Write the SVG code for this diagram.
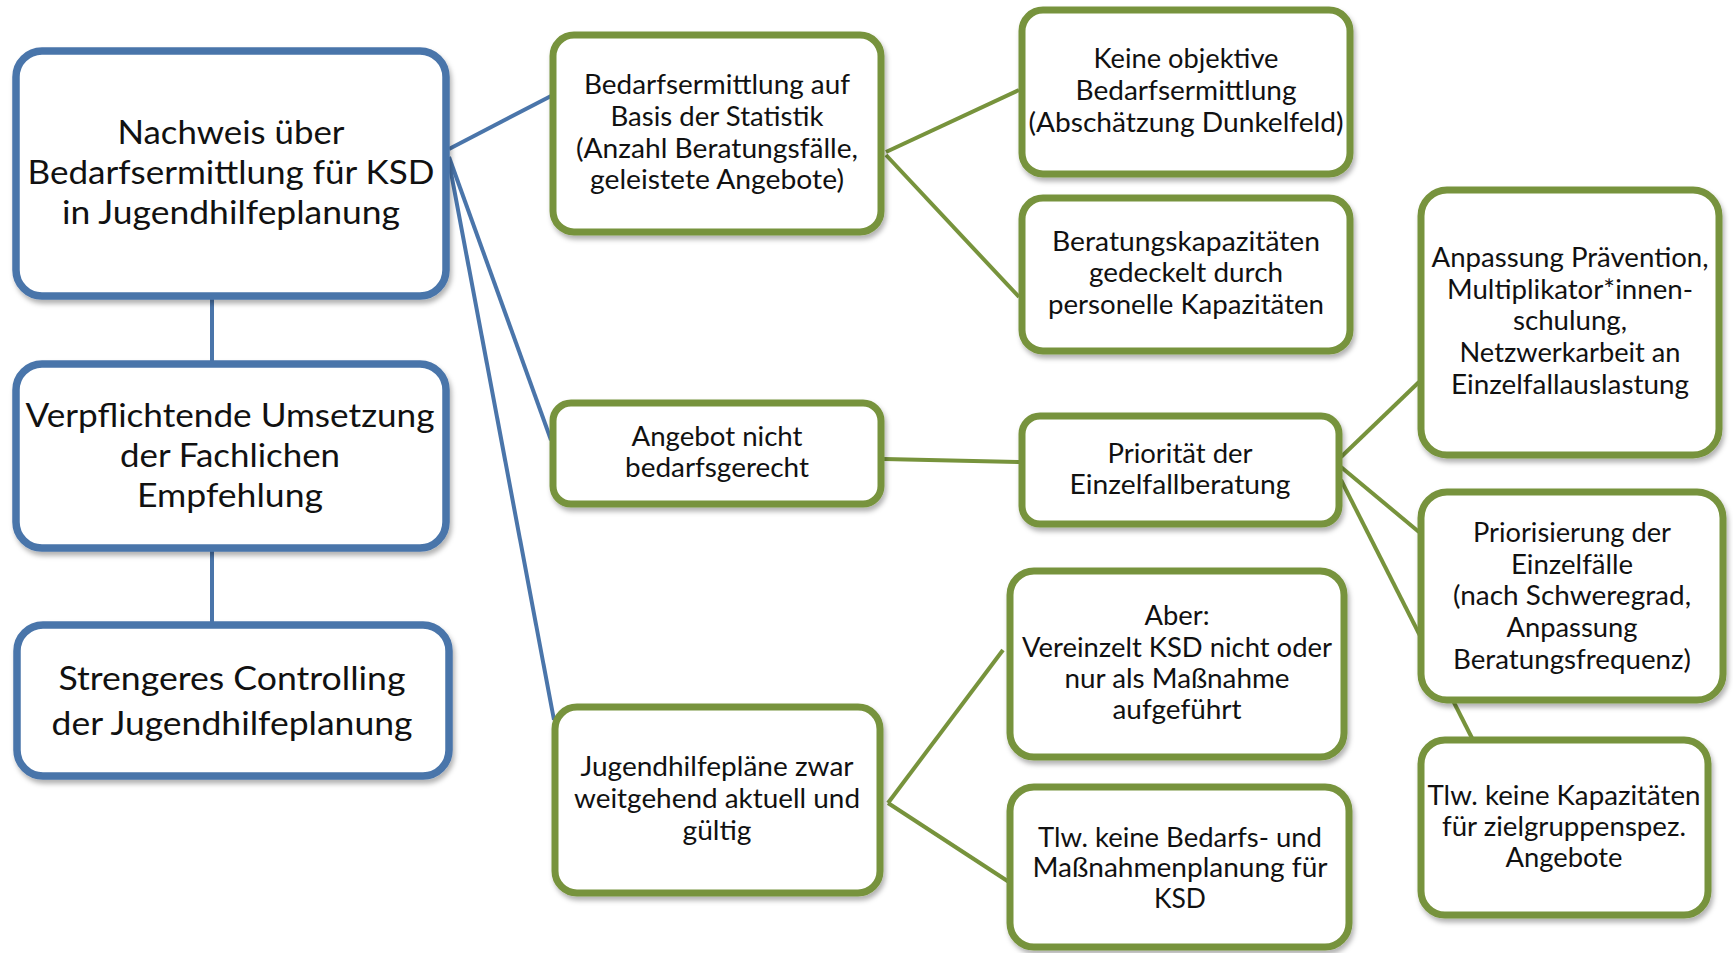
<svg xmlns="http://www.w3.org/2000/svg" width="1733" height="953" viewBox="0 0 1733 953">
<defs>
<filter id="sh" x="-10%" y="-10%" width="125%" height="130%">
<feDropShadow dx="2" dy="4" stdDeviation="2.5" flood-color="#000" flood-opacity="0.3"/>
</filter>
<style>
.bn{fill:#fff;stroke:#4A75AA;stroke-width:7.5;filter:url(#sh)}
.gn{fill:#fff;stroke:#77933C;stroke-width:7;filter:url(#sh)}
.bl{stroke:#4A75AA;stroke-width:4;fill:none}
.gl{stroke:#77933C;stroke-width:4;fill:none}
text{font-family:Lato,"Liberation Sans",sans-serif;fill:#111;text-anchor:middle}
.bt{font-size:32px}
.gt{font-size:27px}
</style>
</defs>
<rect width="1733" height="953" fill="#fff"/>
<g id="connectors">
<line class="bl" x1="212" y1="297" x2="212" y2="364"/>
<line class="bl" x1="212" y1="548" x2="212" y2="625"/>
<line class="bl" x1="449" y1="149" x2="553" y2="95"/>
<line class="bl" x1="449" y1="157" x2="551" y2="440"/>
<line class="bl" x1="449" y1="162" x2="554" y2="720"/>
<line class="gl" x1="886" y1="152" x2="1019" y2="90"/>
<line class="gl" x1="886" y1="155" x2="1019" y2="297"/>
<line class="gl" x1="884" y1="459" x2="1020" y2="462"/>
<line class="gl" x1="1341" y1="457" x2="1419" y2="382"/>
<line class="gl" x1="1341" y1="467" x2="1419" y2="532"/>
<line class="gl" x1="1341" y1="480" x2="1473" y2="740"/>
<line class="gl" x1="888" y1="803" x2="1003" y2="650"/>
<line class="gl" x1="888" y1="803" x2="1009" y2="882"/>
</g>
<g id="b1">
<rect class="bn" x="16" y="51" width="430" height="245" rx="26"/>
<text class="bt" x="231" y="144" textLength="227" lengthAdjust="spacingAndGlyphs">Nachweis über</text>
<text class="bt" x="231" y="184" textLength="407" lengthAdjust="spacingAndGlyphs">Bedarfsermittlung für KSD</text>
<text class="bt" x="231" y="224" textLength="338" lengthAdjust="spacingAndGlyphs">in Jugendhilfeplanung</text>
</g>
<g id="b2">
<rect class="bn" x="16" y="364" width="430" height="184" rx="26"/>
<text class="bt" x="230" y="427" textLength="409" lengthAdjust="spacingAndGlyphs">Verpflichtende Umsetzung</text>
<text class="bt" x="230" y="467" textLength="220" lengthAdjust="spacingAndGlyphs">der Fachlichen</text>
<text class="bt" x="230" y="507" textLength="186" lengthAdjust="spacingAndGlyphs">Empfehlung</text>
</g>
<g id="b3">
<rect class="bn" x="17" y="625" width="432" height="151" rx="26"/>
<text class="bt" x="232" y="690" textLength="347" lengthAdjust="spacingAndGlyphs">Strengeres Controlling</text>
<text class="bt" x="232" y="735" textLength="361" lengthAdjust="spacingAndGlyphs">der Jugendhilfeplanung</text>
</g>
<g id="g1">
<rect class="gn" x="553" y="35" width="328" height="197" rx="21"/>
<text class="gt" x="717" y="94" textLength="266" lengthAdjust="spacingAndGlyphs">Bedarfsermittlung auf</text>
<text class="gt" x="717" y="126" textLength="213" lengthAdjust="spacingAndGlyphs">Basis der Statistik</text>
<text class="gt" x="717" y="158" textLength="282" lengthAdjust="spacingAndGlyphs">(Anzahl Beratungsfälle,</text>
<text class="gt" x="717" y="189" textLength="254" lengthAdjust="spacingAndGlyphs">geleistete Angebote)</text>
</g>
<g id="g2">
<rect class="gn" x="1022" y="10" width="328" height="164" rx="21"/>
<text class="gt" x="1186" y="68" textLength="185" lengthAdjust="spacingAndGlyphs">Keine objektive</text>
<text class="gt" x="1186" y="100" textLength="221" lengthAdjust="spacingAndGlyphs">Bedarfsermittlung</text>
<text class="gt" x="1186" y="132" textLength="315" lengthAdjust="spacingAndGlyphs">(Abschätzung Dunkelfeld)</text>
</g>
<g id="g3">
<rect class="gn" x="1022" y="198" width="328" height="153" rx="21"/>
<text class="gt" x="1186" y="251" textLength="268" lengthAdjust="spacingAndGlyphs">Beratungskapazitäten</text>
<text class="gt" x="1186" y="282" textLength="194" lengthAdjust="spacingAndGlyphs">gedeckelt durch</text>
<text class="gt" x="1186" y="314" textLength="276" lengthAdjust="spacingAndGlyphs">personelle Kapazitäten</text>
</g>
<g id="g4">
<rect class="gn" x="553" y="403" width="328" height="101" rx="18"/>
<text class="gt" x="717" y="446" textLength="171" lengthAdjust="spacingAndGlyphs">Angebot nicht</text>
<text class="gt" x="717" y="477" textLength="184" lengthAdjust="spacingAndGlyphs">bedarfsgerecht</text>
</g>
<g id="g5">
<rect class="gn" x="1022" y="416" width="317" height="108" rx="18"/>
<text class="gt" x="1180" y="463" textLength="145" lengthAdjust="spacingAndGlyphs">Priorität der</text>
<text class="gt" x="1180" y="494" textLength="221" lengthAdjust="spacingAndGlyphs">Einzelfallberatung</text>
</g>
<g id="g6">
<rect class="gn" x="1421" y="190" width="298" height="265" rx="26"/>
<text class="gt" x="1570" y="267" textLength="277" lengthAdjust="spacingAndGlyphs">Anpassung Prävention,</text>
<text class="gt" x="1570" y="299" textLength="246" lengthAdjust="spacingAndGlyphs">Multiplikator*innen-</text>
<text class="gt" x="1570" y="330" textLength="114" lengthAdjust="spacingAndGlyphs">schulung,</text>
<text class="gt" x="1570" y="362" textLength="221" lengthAdjust="spacingAndGlyphs">Netzwerkarbeit an</text>
<text class="gt" x="1570" y="394" textLength="238" lengthAdjust="spacingAndGlyphs">Einzelfallauslastung</text>
</g>
<g id="g7">
<rect class="gn" x="1421" y="492" width="302" height="208" rx="26"/>
<text class="gt" x="1572" y="542" textLength="198" lengthAdjust="spacingAndGlyphs">Priorisierung der</text>
<text class="gt" x="1572" y="574" textLength="122" lengthAdjust="spacingAndGlyphs">Einzelfälle</text>
<text class="gt" x="1572" y="605" textLength="238" lengthAdjust="spacingAndGlyphs">(nach Schweregrad,</text>
<text class="gt" x="1572" y="637" textLength="131" lengthAdjust="spacingAndGlyphs">Anpassung</text>
<text class="gt" x="1572" y="669" textLength="238" lengthAdjust="spacingAndGlyphs">Beratungsfrequenz)</text>
</g>
<g id="g8">
<rect class="gn" x="1421" y="740" width="287" height="175" rx="24"/>
<text class="gt" x="1564" y="805" textLength="273" lengthAdjust="spacingAndGlyphs">Tlw. keine Kapazitäten</text>
<text class="gt" x="1564" y="836" textLength="244" lengthAdjust="spacingAndGlyphs">für zielgruppenspez.</text>
<text class="gt" x="1564" y="867" textLength="117" lengthAdjust="spacingAndGlyphs">Angebote</text>
</g>
<g id="g9">
<rect class="gn" x="555" y="707" width="325" height="186" rx="22"/>
<text class="gt" x="717" y="776" textLength="273" lengthAdjust="spacingAndGlyphs">Jugendhilfepläne zwar</text>
<text class="gt" x="717" y="808" textLength="286" lengthAdjust="spacingAndGlyphs">weitgehend aktuell und</text>
<text class="gt" x="717" y="840" textLength="69" lengthAdjust="spacingAndGlyphs">gültig</text>
</g>
<g id="g10">
<rect class="gn" x="1010" y="571" width="334" height="186" rx="24"/>
<text class="gt" x="1177" y="625" textLength="65" lengthAdjust="spacingAndGlyphs">Aber:</text>
<text class="gt" x="1177" y="657" textLength="310" lengthAdjust="spacingAndGlyphs">Vereinzelt KSD nicht oder</text>
<text class="gt" x="1177" y="688" textLength="225" lengthAdjust="spacingAndGlyphs">nur als Maßnahme</text>
<text class="gt" x="1177" y="719" textLength="129" lengthAdjust="spacingAndGlyphs">aufgeführt</text>
</g>
<g id="g11">
<rect class="gn" x="1010" y="787" width="339" height="160" rx="24"/>
<text class="gt" x="1180" y="847" textLength="284" lengthAdjust="spacingAndGlyphs">Tlw. keine Bedarfs- und</text>
<text class="gt" x="1180" y="877" textLength="295" lengthAdjust="spacingAndGlyphs">Maßnahmenplanung für</text>
<text class="gt" x="1180" y="908" textLength="52" lengthAdjust="spacingAndGlyphs">KSD</text>
</g>
</svg>
